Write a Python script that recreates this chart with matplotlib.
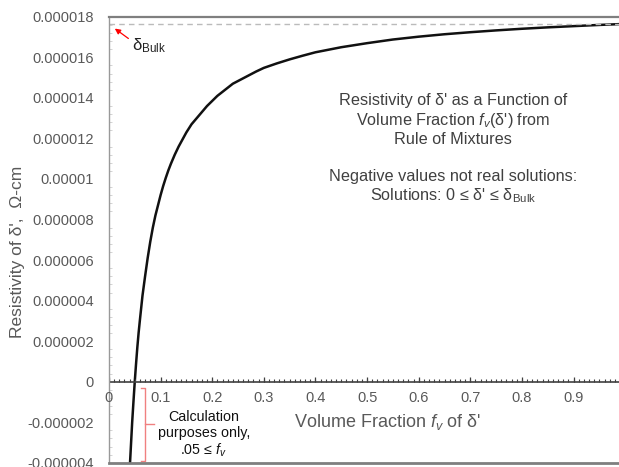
import matplotlib

matplotlib.use("Agg")
import matplotlib.pyplot as plt
from matplotlib.ticker import MultipleLocator

plt.rcParams["font.family"] = ["Liberation Sans", "DejaVu Sans"]
plt.rcParams["mathtext.fontset"] = "custom"
plt.rcParams["mathtext.rm"] = "Liberation Sans"
plt.rcParams["mathtext.it"] = "Liberation Sans:italic"

# volume fraction f_v and resistivity (units of 1e-6 ohm-cm)
frac = [0.040, 0.0425, 0.045, 0.0475, 0.050, 0.0525, 0.055, 0.0575, 0.060, 0.065,
        0.070, 0.075, 0.080, 0.085, 0.090, 0.095, 0.100, 0.105, 0.110, 0.115,
        0.120, 0.1275, 0.135, 0.1425, 0.150, 0.160, 0.170, 0.180, 0.190, 0.200,
        0.210, 0.225, 0.240, 0.255, 0.270, 0.285, 0.300, 0.325, 0.350, 0.375,
        0.400, 0.450, 0.500, 0.550, 0.600, 0.650, 0.700, 0.750, 0.800, 0.850,
        0.900, 0.950, 0.990]
rho = [-4.4, -3.2, -2.0, -0.98, 0.0, 0.88, 1.7, 2.42, 3.05, 4.25,
       5.2, 6.1, 6.9, 7.6, 8.2, 8.7, 9.2, 9.65, 10.05, 10.42,
       10.75, 11.2, 11.6, 11.95, 12.3, 12.7, 13.0, 13.3, 13.6, 13.85,
       14.1, 14.4, 14.7, 14.9, 15.1, 15.3, 15.48, 15.7, 15.9, 16.08,
       16.25, 16.5, 16.7, 16.88, 17.02, 17.14, 17.24, 17.33, 17.41, 17.48,
       17.54, 17.6, 17.64]
rho_bulk = 17.65

yticks = [-4, -2, 0, 2, 4, 6, 8, 10, 12, 14, 16, 18]
ylabels = ["-0.000004", "-0.000002", "0", "0.000002", "0.000004", "0.000006",
           "0.000008", "0.00001", "0.000012", "0.000014", "0.000016", "0.000018"]
xticks = [0, 0.1, 0.2, 0.3, 0.4, 0.5, 0.6, 0.7, 0.8, 0.9]
xlabels = ["0", "0.1", "0.2", "0.3", "0.4", "0.5", "0.6", "0.7", "0.8", "0.9"]

grey = "#595959"
fig = plt.figure(figsize=(6.19, 4.67), dpi=100)
ax = fig.add_axes([0.176, 0.009, 0.824, 0.955])
ax.set_xlim(0, 0.988)
ax.set_ylim(-4, 18)

ax.plot(frac, rho, color="#111111", lw=1.8, clip_on=True)
ax.axhline(rho_bulk, color="#bbbbbb", lw=1, ls=(0, (4, 3)))

ax.spines["right"].set_visible(False)
ax.spines["top"].set_color("#7f7f7f")
ax.spines["top"].set_linewidth(1.6)
ax.spines["bottom"].set_color("#7f7f7f")
ax.spines["bottom"].set_linewidth(2)
ax.spines["left"].set_color("#999999")
ax.spines["left"].set_linewidth(1)

ax.set_yticks(yticks)
ax.set_yticklabels(ylabels)
ax.yaxis.set_minor_locator(MultipleLocator(0.4))
ax.tick_params(axis="y", which="major", length=0, labelsize=10.5, labelcolor=grey, pad=11)
ax.tick_params(axis="y", which="minor", length=2, color="#cccccc", direction="in")

# x axis sits on the zero line
ax.set_xticks([])
ax.axhline(0, color="#404040", lw=1.2)
minor_x = [i / 100 for i in range(0, 99)]
ax.vlines(minor_x, 0, 0.13, color="#404040", lw=0.8)
ax.vlines(xticks, 0, 0.25, color="#404040", lw=0.9)
for xv, lab in zip(xticks, xlabels):
    ax.text(xv, -0.8, lab, ha="center", va="center", fontsize=10.5, color=grey)

ax.text(0.54, -2.0, "Volume Fraction $f_v$ of δ'", ha="center", va="center",
        fontsize=13, color=grey)
fig.text(0.028, 0.46, "Resistivity of δ',  Ω-cm", rotation=90, ha="center",
         va="center", fontsize=12.5, color=grey)

note = "Resistivity of δ' as a Function of\nVolume Fraction $f_v$(δ') from\nRule of Mixtures"
ax.text(0.667, 12.9, note, ha="center", va="center", fontsize=11.7,
        color="#404040", linespacing=1.2)
ax.text(0.667, 9.6, "Negative values not real solutions:\nSolutions: 0 ≤ δ' ≤ δ$_{\\mathregular{Bulk}}$",
        ha="center", va="center", fontsize=11.7, color="#404040", linespacing=1.2)

ax.annotate("", xy=(0.007, 17.5), xytext=(0.042, 16.85),
            arrowprops=dict(arrowstyle="-|>", color="red", lw=0.9,
                            mutation_scale=8))
ax.text(0.044, 16.6, "δ$_{\\mathregular{Bulk}}$", fontsize=12, color="#222222",
        ha="left", va="center")

# red curly bracket for the calculation-only region
bc = "#f08080"
ax.plot([0.062, 0.070, 0.070, 0.088], [-0.33, -0.33, -2.1, -2.1], color=bc, lw=1)
ax.plot([0.070, 0.070, 0.062], [-2.1, -3.9, -3.9], color=bc, lw=1)
ax.text(0.184, -2.6, "Calculation\npurposes only,\n.05 ≤ $f_v$", ha="center",
        va="center", fontsize=10.3, color="#111111", linespacing=1.15)

fig.savefig("out.png", dpi=100)
